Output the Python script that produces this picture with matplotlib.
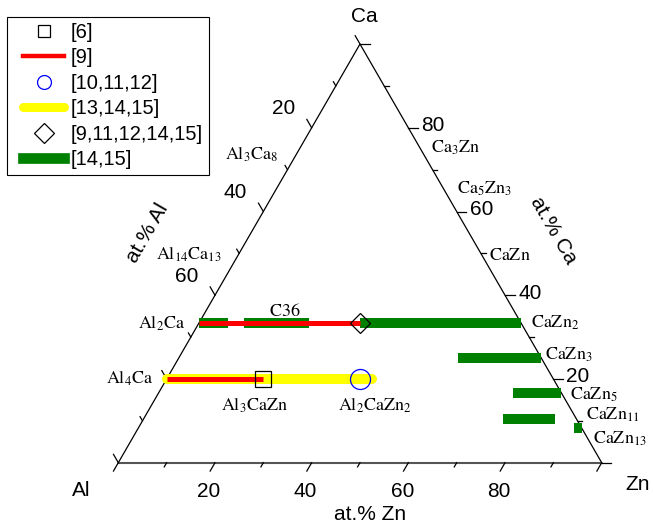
import numpy as np
import matplotlib
matplotlib.use('Agg')
import matplotlib.pyplot as plt
from matplotlib.lines import Line2D
from matplotlib.legend_handler import HandlerLine2D

plt.rcParams['font.family'] = ['Liberation Sans', 'DejaVu Sans']
plt.rcParams['mathtext.fontset'] = 'stix'

# compositions in at.% (Zn, Ca); Al is the rest
sq_zn, sq_ca = [20.0], [20.0]          # [6] Al3CaZn
circ_zn, circ_ca = [40.0], [20.0]      # [10,11,12] Al2CaZn2
dia_zn, dia_ca = [33.3], [33.3]        # [9,11,12,14,15]

red_ca = [33.3, 20.0]                  # [9]
red_zn_from = [0.0, 0.0]
red_zn_to = [33.3, 20.0]

yellow_ca = [20.0]                     # [13,14,15]
yellow_zn_from = [0.0]
yellow_zn_to = [42.4]

green_ca = [33.3, 33.3, 33.3, 25.0, 16.7, 10.4, 8.3]   # [14,15]
green_zn_from = [0.0, 9.4, 33.3, 57.8, 73.4, 74.4, 90.2]
green_zn_to = [6.0, 22.7, 66.7, 75.0, 83.3, 85.1, 91.7]

tick_vals = list(range(0, 101, 10))
bottom_labels = [20, 40, 60, 80]
left_labels = [20, 40, 60]
right_labels = [20, 40, 60, 80]

S = 4.834  # pixels per at.%
X0, Y0 = 118.3, 462.7  # pixel position of the Al corner


def tern(zn, ca):
    zn = np.asarray(zn, dtype=float)
    ca = np.asarray(ca, dtype=float)
    return zn + ca / 2.0, ca * np.sqrt(3) / 2.0


def px(xp, yp):
    return (xp - X0) / S, (Y0 - yp) / S


fig = plt.figure(figsize=(6.53, 5.26), dpi=100)
ax = fig.add_axes([0, 0, 1, 1])
ax.set_xlim(-X0 / S, (653 - X0) / S)
ax.set_ylim((Y0 - 526) / S, Y0 / S)
ax.axis('off')

# triangle
ax.plot(*tern([0, 100], [0, 0]), color='#555555', lw=1.5, solid_capstyle='butt')
ax.plot(*tern([0, 0, 100], [0, 100, 0]), color='black', lw=0.9)

# ticks
for v in tick_vals:
    ln = 2.0 if v % 20 == 0 else 1.0
    # bottom (Zn): down-left
    x, y = tern(v, 0)
    ax.plot([x, x - 0.5 * ln], [y, y - 0.866 * ln], color='black', lw=0.9)
    # left (Al): up-left
    x, y = tern(0, 100 - v)
    ax.plot([x, x - 0.5 * ln], [y, y + 0.866 * ln], color='black', lw=0.9)
    # right (Ca): to the right
    x, y = tern(100 - v, v)
    ax.plot([x, x + ln], [y, y], color='black', lw=0.9)

for v in bottom_labels:
    ax.annotate(str(v), tern(v, 0), xytext=(-6, -29), textcoords='offset pixels',
                ha='center', va='center', fontsize=15)
for v in left_labels:
    ax.annotate(str(v), tern(0, 100 - v), xytext=(-28, 19), textcoords='offset pixels',
                ha='center', va='center', fontsize=15)
for v in right_labels:
    ax.annotate(str(v), tern(100 - v, v), xytext=(13, 2), textcoords='offset pixels',
                ha='left', va='center', fontsize=15)

# data
for c, a, b in zip(yellow_ca, yellow_zn_from, yellow_zn_to):
    ax.plot(*tern([a, b], [c, c]), color='#ffff00', lw=7.2, solid_capstyle='round', zorder=2)
for c, a, b in zip(green_ca, green_zn_from, green_zn_to):
    ax.plot(*tern([a, b], [c, c]), color='#008000', lw=7.2, solid_capstyle='butt', zorder=2)
for c, a, b in zip(red_ca, red_zn_from, red_zn_to):
    ax.plot(*tern([a, b], [c, c]), color='red', lw=3.6, solid_capstyle='butt', zorder=3)
ax.plot(*tern(sq_zn, sq_ca), ls='none', marker='s', ms=12.2, mfc='none', mec='black', mew=0.9, zorder=4)
ax.plot(*tern(circ_zn, circ_ca), ls='none', marker='o', ms=14.4, mfc='none', mec='blue', mew=0.9, zorder=4)
ax.plot(*tern(dia_zn, dia_ca), ls='none', marker='D', ms=10.2, mfc='none', mec='black', mew=0.9, zorder=4)

# corner and axis titles
ax.text(*px(364, 16), 'Ca', ha='center', va='center', fontsize=15)
ax.text(*px(81, 491), 'Al', ha='center', va='center', fontsize=15)
ax.text(*px(638, 485), 'Zn', ha='center', va='center', fontsize=15)
ax.text(*px(370, 514), 'at.% Zn', ha='center', va='center', fontsize=15)
ax.text(*px(147, 233), 'at.% Al', ha='center', va='center', fontsize=15, rotation=60)
ax.text(*px(553, 230), 'at.% Ca', ha='center', va='center', fontsize=15, rotation=-60)

# phase labels
fs = 13
for lab, xp, yp in [(r'$\mathrm{Al_3Ca_8}$', 278, 155), (r'$\mathrm{Al_{14}Ca_{13}}$', 222, 255),
                    (r'$\mathrm{Al_2Ca}$', 185, 324), (r'$\mathrm{Al_4Ca}$', 153, 379)]:
    ax.text(*px(xp, yp), lab, ha='right', va='center', fontsize=fs)
for lab, xp, yp in [(r'$\mathrm{Ca_3Zn}$', 431, 148), (r'$\mathrm{Ca_5Zn_3}$', 457, 189),
                    (r'$\mathrm{CaZn}$', 489, 255), (r'$\mathrm{CaZn_2}$', 531, 323),
                    (r'$\mathrm{CaZn_3}$', 545, 355), (r'$\mathrm{CaZn_5}$', 570, 395),
                    (r'$\mathrm{CaZn_{11}}$', 586, 415), (r'$\mathrm{CaZn_{13}}$', 593, 439)]:
    ax.text(*px(xp, yp), lab, ha='left', va='center', fontsize=fs)
ax.text(*px(255, 406), r'$\mathrm{Al_3CaZn}$', ha='center', va='center', fontsize=fs)
ax.text(*px(375, 406), r'$\mathrm{Al_2CaZn_2}$', ha='center', va='center', fontsize=fs)
ax.text(*px(285, 312), r'$\mathrm{C36}$', ha='center', va='center', fontsize=fs)

# legend
handles = [
    Line2D([], [], ls='none', marker='s', ms=8.9, mfc='none', mec='black', mew=0.9),
    Line2D([], [], color='red', lw=3.2),
    Line2D([], [], ls='none', marker='o', ms=10, mfc='none', mec='blue', mew=0.9),
    Line2D([], [], color='#ffff00', lw=6.5, solid_capstyle='round'),
    Line2D([], [], ls='none', marker='D', ms=9.7, mfc='none', mec='black', mew=0.9),
    Line2D([], [], color='#008000', lw=7.7),
]
labels = ['[6]', '[9]', '[10,11,12]', '[13,14,15]', '[9,11,12,14,15]', '[14,15]']
leg = ax.legend(handles, labels, loc='upper left', bbox_to_anchor=(7 / 653, 1 - 17 / 526),
                bbox_transform=fig.transFigure, borderaxespad=0, fontsize=14.5,
                frameon=True, fancybox=False, framealpha=1, edgecolor='black',
                handlelength=2.55, handletextpad=0.3, labelspacing=0.32, borderpad=0.3,
                handler_map={Line2D: HandlerLine2D(xpad=0.5)})
leg.get_frame().set_linewidth(0.8)

fig.savefig('out.png', dpi=100)
